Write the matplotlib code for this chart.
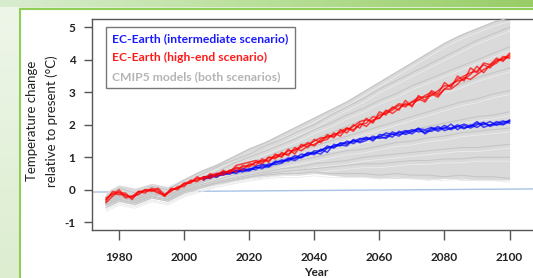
import numpy as np
import matplotlib
matplotlib.use('Agg')
import matplotlib.pyplot as plt
import matplotlib.patches as patches
from matplotlib.colors import LinearSegmentedColormap
from matplotlib.lines import Line2D

plt.rcParams['font.family'] = ['Lato', 'DejaVu Sans']

# EC-Earth runs, every 2 years 1976-2100 (high-end scenario, red)
years_red = list(range(1976, 2101, 2))
red_run1 = [-0.35, -0.05, -0.10, -0.10, -0.30, -0.05, -0.10, 0.05, 0.00, -0.20,
            0.05, 0.00, 0.20, 0.20, 0.40, 0.30, 0.50, 0.40, 0.60, 0.50,
            0.70, 0.60, 0.80, 0.75, 0.95, 0.85, 1.10, 1.00, 1.25, 1.10,
            1.40, 1.30, 1.55, 1.45, 1.70, 1.60, 1.85, 1.75, 2.00, 1.90,
            2.20, 2.05, 2.40, 2.30, 2.55, 2.45, 2.75, 2.55, 2.90, 2.75,
            3.05, 2.95, 3.30, 3.15, 3.50, 3.35, 3.75, 3.60, 3.90, 3.85,
            4.05, 3.95, 4.20]
red_run2 = [-0.25, -0.15, 0.00, -0.20, -0.20, -0.15, 0.00, -0.05, 0.05, -0.15,
            -0.05, 0.10, 0.10, 0.30, 0.25, 0.40, 0.35, 0.50, 0.45, 0.60,
            0.55, 0.75, 0.70, 0.85, 0.80, 1.00, 0.95, 1.15, 1.05, 1.30,
            1.20, 1.35, 1.40, 1.50, 1.55, 1.75, 1.65, 1.90, 1.80, 2.05,
            1.95, 2.15, 2.20, 2.45, 2.35, 2.50, 2.65, 2.60, 2.80, 2.70,
            2.95, 2.85, 3.10, 3.10, 3.25, 3.45, 3.40, 3.55, 3.70, 3.80,
            3.90, 4.10, 4.05]
red_run3 = [-0.40, -0.20, -0.05, -0.25, -0.20, -0.05, -0.05, 0.00, -0.05, -0.20,
            0.00, 0.05, 0.15, 0.25, 0.30, 0.40, 0.40, 0.45, 0.50, 0.60,
            0.65, 0.70, 0.75, 0.85, 0.90, 0.90, 1.05, 1.10, 1.10, 1.25,
            1.30, 1.45, 1.35, 1.55, 1.65, 1.65, 1.80, 1.90, 1.85, 2.00,
            2.05, 2.25, 2.20, 2.40, 2.50, 2.65, 2.60, 2.70, 2.75, 2.90,
            3.00, 2.90, 3.10, 3.25, 3.35, 3.40, 3.55, 3.80, 3.60, 3.85,
            3.95, 4.05, 4.15]
red_run4 = [-0.30, -0.10, -0.15, -0.15, -0.25, -0.10, 0.00, 0.00, -0.10, -0.15,
            0.00, 0.05, 0.20, 0.25, 0.35, 0.35, 0.45, 0.50, 0.55, 0.55,
            0.75, 0.80, 0.85, 0.90, 0.85, 1.00, 1.00, 1.05, 1.20, 1.20,
            1.35, 1.40, 1.50, 1.60, 1.60, 1.70, 1.75, 1.85, 1.95, 2.10,
            2.15, 2.10, 2.30, 2.35, 2.45, 2.60, 2.55, 2.70, 2.85, 2.85,
            2.90, 3.05, 3.20, 3.20, 3.40, 3.50, 3.60, 3.65, 3.85, 3.75,
            4.00, 4.00, 4.10]

# intermediate scenario (blue), every 2 years 2006-2100
years_blue = list(range(2006, 2101, 2))
blue_run1 = [0.35, 0.40, 0.42, 0.50, 0.48, 0.58, 0.55, 0.65, 0.62, 0.75,
             0.72, 0.88, 0.85, 0.98, 0.95, 1.10, 1.05, 1.20, 1.18, 1.35,
             1.28, 1.45, 1.40, 1.52, 1.48, 1.60, 1.55, 1.65, 1.58, 1.72,
             1.65, 1.80, 1.72, 1.85, 1.75, 1.90, 1.80, 1.92, 1.85, 1.95,
             1.88, 2.00, 1.92, 2.05, 1.98, 2.10, 2.02, 2.15]
blue_run2 = [0.30, 0.45, 0.38, 0.52, 0.55, 0.50, 0.62, 0.60, 0.70, 0.65,
             0.80, 0.78, 0.82, 0.95, 0.90, 1.02, 1.12, 1.08, 1.25, 1.15,
             1.40, 1.35, 1.50, 1.42, 1.55, 1.62, 1.50, 1.70, 1.68, 1.62,
             1.80, 1.70, 1.78, 1.90, 1.72, 1.85, 1.95, 1.82, 1.90, 2.00,
             1.90, 1.95, 2.10, 1.92, 2.00, 2.05, 2.12, 2.05]
blue_run3 = [0.38, 0.35, 0.48, 0.45, 0.52, 0.60, 0.58, 0.58, 0.68, 0.70,
             0.70, 0.82, 0.92, 0.88, 1.00, 0.98, 1.08, 1.15, 1.10, 1.28,
             1.32, 1.38, 1.35, 1.55, 1.45, 1.52, 1.65, 1.58, 1.62, 1.78,
             1.70, 1.75, 1.85, 1.78, 1.82, 1.80, 1.90, 1.88, 2.02, 1.85,
             1.98, 1.90, 2.00, 2.08, 1.95, 2.02, 2.00, 2.10]
blue_run4 = [0.40, 0.42, 0.45, 0.55, 0.52, 0.55, 0.65, 0.62, 0.72, 0.78,
             0.75, 0.85, 0.88, 0.92, 1.05, 1.00, 1.15, 1.12, 1.22, 1.30,
             1.35, 1.42, 1.45, 1.48, 1.58, 1.55, 1.60, 1.62, 1.75, 1.70,
             1.75, 1.82, 1.80, 1.88, 1.85, 1.92, 1.85, 1.98, 1.88, 1.95,
             2.02, 1.95, 2.05, 2.00, 2.10, 1.98, 2.08, 2.12]

# CMIP5 spread (gray), every 5 years
years_gray = [1976] + list(range(1980, 2101, 5))
gray_upper = [-0.05, 0.15, 0.05, 0.2, 0.1, 0.35, 0.6, 0.8, 1.05, 1.3, 1.5, 1.75, 2.0,
              2.25, 2.5, 2.75, 3.05, 3.35, 3.65, 3.95, 4.25, 4.55, 4.8, 5.0, 5.2, 5.35]
gray_lower = [-0.55, -0.35, -0.45, -0.25, -0.35, -0.1, 0.05, 0.15, 0.25, 0.35, 0.4, 0.45, 0.45,
              0.5, 0.45, 0.4, 0.4, 0.35, 0.35, 0.35, 0.3, 0.35, 0.3, 0.3, 0.3, 0.3]
gray_models = [
    [-0.2, 0.05, -0.1, 0.1, 0.0, 0.3, 0.55, 0.75, 1.0, 1.25, 1.45, 1.7, 1.95, 2.2, 2.45, 2.7, 3.0, 3.3, 3.6, 3.9, 4.2, 4.5, 4.75, 4.95, 5.15, 5.3],
    [-0.3, -0.1, -0.2, 0.0, -0.1, 0.2, 0.45, 0.7, 0.9, 1.1, 1.35, 1.55, 1.8, 2.0, 2.3, 2.55, 2.8, 3.1, 3.35, 3.6, 3.85, 4.1, 4.35, 4.6, 4.8, 5.0],
    [-0.4, -0.2, -0.3, -0.1, -0.2, 0.1, 0.35, 0.55, 0.8, 1.0, 1.2, 1.4, 1.6, 1.85, 2.05, 2.3, 2.5, 2.75, 2.95, 3.2, 3.4, 3.6, 3.8, 4.0, 4.2, 4.4],
    [-0.35, -0.15, -0.25, -0.05, -0.15, 0.05, 0.3, 0.45, 0.65, 0.85, 1.0, 1.2, 1.35, 1.55, 1.75, 1.95, 2.15, 2.35, 2.55, 2.75, 2.9, 3.1, 3.25, 3.45, 3.6, 3.75],
    [-0.45, -0.25, -0.3, -0.1, -0.25, 0.0, 0.2, 0.4, 0.6, 0.75, 0.9, 1.05, 1.2, 1.35, 1.5, 1.65, 1.8, 1.95, 2.1, 2.25, 2.4, 2.55, 2.7, 2.8, 2.95, 3.05],
    [-0.3, -0.2, -0.35, -0.15, -0.2, 0.05, 0.25, 0.4, 0.55, 0.7, 0.8, 0.95, 1.05, 1.2, 1.3, 1.4, 1.55, 1.65, 1.75, 1.85, 1.95, 2.05, 2.15, 2.25, 2.3, 2.4],
    [-0.5, -0.3, -0.4, -0.2, -0.3, -0.05, 0.15, 0.3, 0.45, 0.55, 0.65, 0.8, 0.9, 1.0, 1.1, 1.2, 1.25, 1.35, 1.45, 1.5, 1.6, 1.65, 1.75, 1.8, 1.85, 1.9],
    [-0.4, -0.25, -0.35, -0.2, -0.3, -0.05, 0.1, 0.25, 0.35, 0.45, 0.55, 0.65, 0.7, 0.8, 0.85, 0.9, 1.0, 1.05, 1.1, 1.15, 1.2, 1.25, 1.3, 1.3, 1.35, 1.4],
    [-0.55, -0.35, -0.45, -0.25, -0.35, -0.1, 0.05, 0.2, 0.3, 0.4, 0.5, 0.55, 0.6, 0.65, 0.7, 0.75, 0.8, 0.8, 0.85, 0.9, 0.9, 0.95, 0.95, 1.0, 1.0, 1.0],
    [-0.45, -0.3, -0.4, -0.2, -0.3, -0.05, 0.1, 0.2, 0.3, 0.4, 0.45, 0.5, 0.5, 0.55, 0.5, 0.5, 0.5, 0.45, 0.5, 0.45, 0.45, 0.4, 0.45, 0.4, 0.4, 0.35],
]

# reference line near zero
zero_years = [1971, 2112]
zero_vals = [-0.07, 0.03]

x_ticks = [1980, 2000, 2020, 2040, 2060, 2080, 2100]
y_ticks = [-1, 0, 1, 2, 3, 4, 5]
legend_labels = ['EC-Earth (intermediate scenario)', 'EC-Earth (high-end scenario)',
                 'CMIP5 models (both scenarios)']
legend_colors = ['#1a1aff', '#ff1a1a', '#b4b4b4']

W, H = 533, 278
fig = plt.figure(figsize=(W / 100, H / 100), dpi=100, facecolor='#e3f0d9')

# slide background
bg = fig.add_axes([0, 0, 1, 1])
bg.axis('off')
grad_cmap = LinearSegmentedColormap.from_list('g', ['#d9ecd0', '#b8df98', '#98cd66'])
bg.imshow(np.linspace(0, 1, 256).reshape(1, -1), cmap=grad_cmap, extent=(0, W, 7, 0), aspect='auto')
lcmap = LinearSegmentedColormap.from_list('l', ['#eef6e9', '#dcedd0'])
bg.imshow(np.linspace(0, 1, 256).reshape(-1, 1), cmap=lcmap, extent=(0, 19, H, 7), aspect='auto')
bg.add_patch(patches.Rectangle((19.5, 8.5), W, H, facecolor='white', edgecolor='#8fcf57', linewidth=1.5))
bg.set_xlim(0, W)
bg.set_ylim(H, 0)

ax = fig.add_axes([92 / W, (H - 230) / H, (548 - 92) / W, (230 - 19) / H])
ax.set_facecolor('white')

ax.plot(zero_years, zero_vals, color='#a8c3e4', linewidth=1.0, zorder=1)
ax.fill_between(years_gray, gray_lower, gray_upper, color='#dadada', linewidth=0, zorder=2)
for m in gray_models:
    ax.plot(years_gray, m, color='#c6c6c6', linewidth=0.8, zorder=3)
    ax.plot(years_gray, [v - 0.12 for v in m], color='#ececec', linewidth=0.6, zorder=3)
for run in [blue_run1, blue_run2, blue_run3, blue_run4]:
    ax.plot(years_blue, run, color='#0000ff', linewidth=1.1, alpha=0.7, zorder=4)
for run in [red_run1, red_run2, red_run3, red_run4]:
    ax.plot(years_red, run, color='#ff0000', linewidth=1.1, alpha=0.7, zorder=5)

ax.set_xlim(1971.7, 2111.8)
ax.set_ylim(-1.237, 5.255)
ax.set_xticks(x_ticks)
ax.set_xticklabels([str(v) for v in x_ticks], fontweight='bold', fontsize=8.5, color='#222222')
ax.set_yticks(y_ticks)
ax.set_yticklabels([str(v) for v in y_ticks], fontweight='bold', fontsize=8.5, color='#222222')
ax.tick_params(axis='x', length=7, width=1, color='#555555', pad=9)
ax.tick_params(axis='y', length=6, width=1, color='#555555', pad=6)
for side in ['left', 'bottom', 'top']:
    ax.spines[side].set_color('#555555')
    ax.spines[side].set_linewidth(1.0)
ax.spines['right'].set_visible(False)

handles = [Line2D([], [], linestyle='none') for _ in legend_labels]
leg = ax.legend(handles, legend_labels, loc='upper left', bbox_to_anchor=(0.03, 0.962),
                handlelength=0, handletextpad=0, labelcolor=legend_colors,
                prop={'family': 'Lato', 'weight': 'bold', 'size': 8.7}, frameon=True,
                fancybox=False, borderpad=0.55, labelspacing=0.62, borderaxespad=0)
leg.get_frame().set_edgecolor('#555555')
leg.get_frame().set_linewidth(1.0)

fig.text(42 / W, (H - 121) / H, 'Temperature change\nrelative to present (°C)',
         rotation=90, ha='center', va='center', multialignment='center',
         fontsize=9.5, color='#222222', linespacing=1.7)
fig.text(316 / W, (H - 272) / H, 'Year', ha='center', va='center',
         fontsize=8.5, fontweight='bold', color='#222222')

fig.savefig('out.png', dpi=100)
